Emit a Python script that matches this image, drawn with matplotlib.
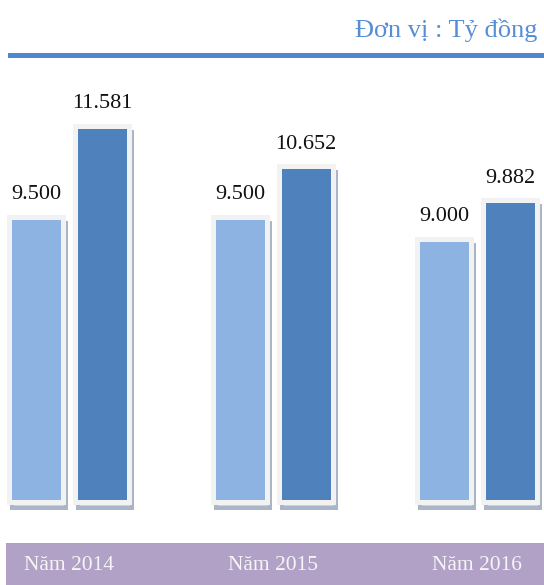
"""
Revenue bars by year (infographic style), unit: billion VND.

Output:
  - ./out.png
"""

import matplotlib

matplotlib.use("Agg")
import matplotlib.pyplot as plt
import matplotlib.transforms as mtransforms
from matplotlib.lines import Line2D
from matplotlib.patches import Rectangle

YEARS = ["Năm 2014", "Năm 2015", "Năm 2016"]
PLAN = [9500, 9500, 9000]
ACTUAL = [11581, 10652, 9882]
VALUE_LABELS_PLAN = ["9.500", "9.500", "9.000"]
VALUE_LABELS_ACTUAL = ["11.581", "10.652", "9.882"]
UNIT_TEXT = "Đơn vị : Tỷ đồng"

LIGHT = "#8db3e2"
DARK = "#4f81bd"
FRAME = "#f2f2f2"
SHADOW = "#aab6c7"
BAND = "#b2a1c7"
TITLE_BLUE = "#558ed5"

BASELINE = 3000  # bars are drawn from a truncated base
W, H, DPI = 544, 585, 100


def px(v):
    return v / DPI * 72  # pixels -> points


def main():
    plt.rcParams["font.family"] = ["Liberation Serif", "DejaVu Serif"]
    fig = plt.figure(figsize=(W / DPI, H / DPI), dpi=DPI)
    ax = fig.add_axes([0, 0, 1, 1])
    ax.set_axis_off()
    ax.patch.set_alpha(0)
    ax.set_xlim(-0.338, 2.328)
    ax.set_ylim(1096, 14452)

    x = list(range(len(YEARS)))
    off = 0.162
    width = 0.265
    shadow_tr = ax.transData + mtransforms.ScaledTranslation(3 / DPI, -6 / DPI, fig.dpi_scale_trans)

    for vals, labels, color, sign in [
        (PLAN, VALUE_LABELS_PLAN, LIGHT, -1),
        (ACTUAL, VALUE_LABELS_ACTUAL, DARK, 1),
    ]:
        xs = [xi + sign * off for xi in x]
        heights = [v - BASELINE for v in vals]
        sh = ax.bar(xs, heights, width=width, bottom=BASELINE, color="#c9d1dc",
                    edgecolor=SHADOW, linewidth=px(4), zorder=1)
        for p in sh:
            p.set_transform(shadow_tr)
        ax.bar(xs, heights, width=width, bottom=BASELINE, color=color,
               edgecolor=FRAME, linewidth=px(5), zorder=2)
        for xi, v, lab in zip(xs, vals, labels):
            ax.annotate(lab, (xi, v), xytext=(0, 9), textcoords="offset points",
                        ha="center", va="bottom", fontsize=16, color="#111111")

    # unit title and rule
    fig.text(537 / W, 1 - 30 / H, UNIT_TEXT, ha="right", va="center",
             fontsize=19, color=TITLE_BLUE)
    fig.add_artist(Line2D([10 / W, 1], [1 - 55 / H] * 2, color="#4f86cf",
                          linewidth=px(5), transform=fig.transFigure))

    # bottom band with year labels
    fig.add_artist(Rectangle((6 / W, 0), 1 - 6 / W, 42 / H, transform=fig.transFigure,
                             facecolor=BAND, edgecolor="none", zorder=0))
    band_tr = mtransforms.blended_transform_factory(ax.transData, fig.transFigure)
    for xi, name in zip(x, YEARS):
        ax.text(xi, 19 / H, name, transform=band_tr, ha="center", va="center",
                fontsize=15.5, color="#f5f5f5")

    fig.savefig("out.png", dpi=DPI)
    plt.close(fig)


if __name__ == "__main__":
    main()
